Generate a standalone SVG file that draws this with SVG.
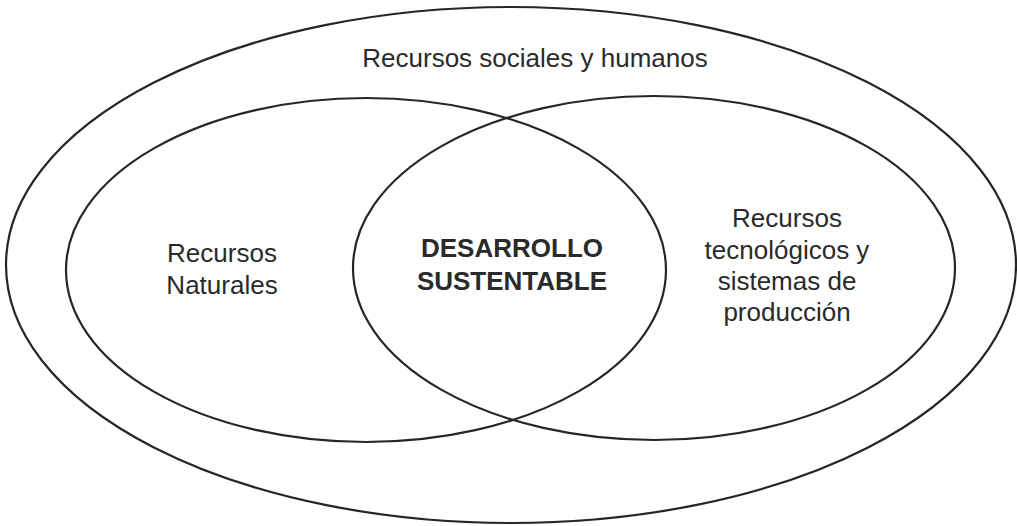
<svg xmlns="http://www.w3.org/2000/svg" width="1017" height="526" viewBox="0 0 1017 526">
<style>
.e{fill:none;stroke:#262626;stroke-width:2.2}
.t{font-family:"Liberation Sans",Arial,sans-serif;font-size:26px;fill:#2a2a2a;text-anchor:middle}
.b{font-weight:bold}
</style>
<rect width="1017" height="526" fill="#ffffff"/>
<g id="outer">
<ellipse class="e" cx="511" cy="265" rx="505" ry="258"/>
<text class="t" x="535" y="67">Recursos sociales y humanos</text>
</g>
<g id="naturales">
<ellipse class="e" cx="366" cy="270" rx="300" ry="172"/>
<text class="t" x="222" y="262">Recursos</text>
<text class="t" x="222" y="294">Naturales</text>
</g>
<g id="tecnologicos">
<ellipse class="e" cx="654" cy="268" rx="301" ry="172"/>
<text class="t" x="787" y="227">Recursos</text>
<text class="t" x="787" y="259">tecnológicos y</text>
<text class="t" x="787" y="290">sistemas de</text>
<text class="t" x="787" y="321">producción</text>
</g>
<g id="desarrollo">
<text class="t b" x="512" y="257">DESARROLLO</text>
<text class="t b" x="512" y="290">SUSTENTABLE</text>
</g>
<g id="connectors"/>
</svg>
